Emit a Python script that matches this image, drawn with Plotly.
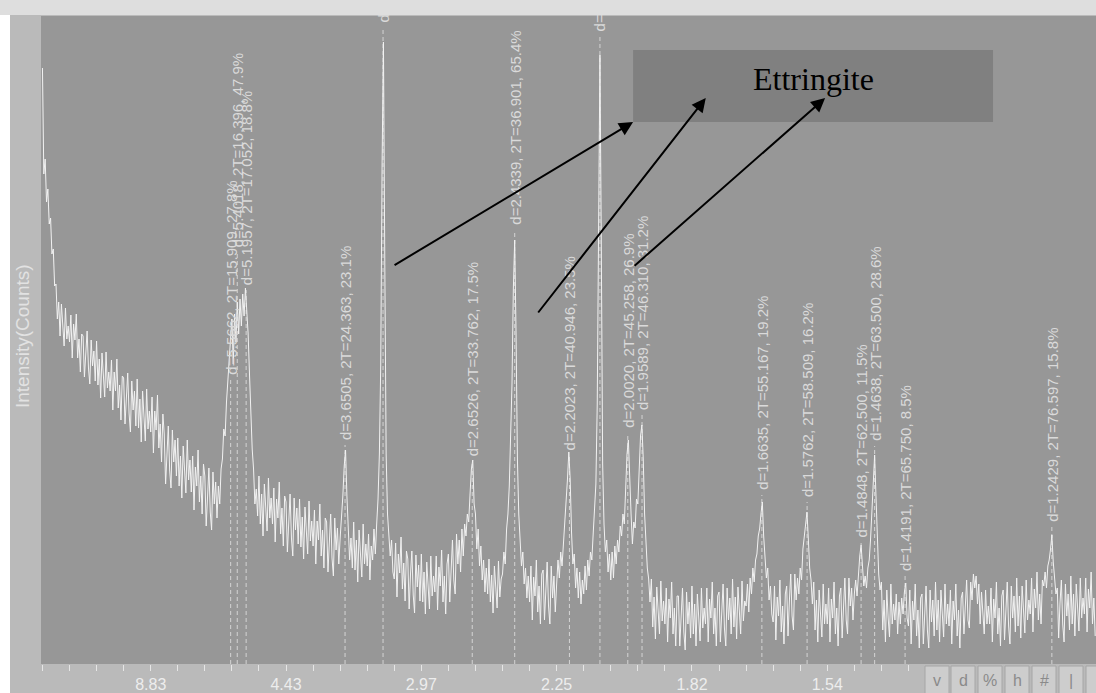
import numpy as np
import plotly.graph_objects as go

# Powder diffractogram, Cu K-alpha, intensity sampled every 0.1 deg 2-theta from 2.0 deg
start_2t = 2.0
step_2t = 0.1
counts = [
    596, 490, 505, 462, 475, 440, 446, 410, 415, 378,   # 2
    380, 345, 362, 328, 360, 340, 318, 356, 325, 338,   # 3
    322, 349, 306, 340, 324, 350, 306, 325, 292, 330,   # 4
    328, 287, 314, 333, 296, 280, 324, 298, 313, 283,   # 5
    323, 279, 305, 266, 311, 285, 267, 312, 276, 292,   # 6
    273, 304, 254, 292, 273, 305, 256, 279, 244, 288,   # 7
    286, 240, 271, 291, 251, 232, 283, 254, 273, 238,   # 8
    285, 236, 265, 222, 273, 244, 223, 275, 235, 253,   # 9
    232, 267, 211, 253, 234, 269, 216, 240, 202, 250,   # 10
    230, 180, 215, 238, 194, 176, 234, 202, 224, 188,   # 11
    226, 178, 208, 166, 218, 190, 171, 224, 184, 204,   # 12
    172, 208, 154, 197, 178, 214, 162, 188, 150, 200,   # 13
    188, 138, 173, 196, 152, 134, 192, 160, 182, 146,   # 14
    178, 160, 195, 205, 235, 228, 262, 280, 300, 325,   # 15
    345, 300, 350, 322, 362, 330, 365, 338, 370, 348,   # 16
    376, 352, 330, 290, 250, 215, 195, 160, 175, 148,   # 17
    188, 140, 170, 128, 180, 152, 133, 186, 146, 166,   # 18
    140, 176, 122, 165, 146, 182, 130, 156, 118, 168,   # 19
    162, 112, 147, 170, 126, 108, 166, 134, 156, 120,   # 20
    165, 117, 147, 105, 157, 129, 110, 163, 123, 143,   # 21
    118, 154, 100, 143, 124, 160, 108, 134, 96, 146,    # 22
    142, 92, 127, 150, 106, 88, 146, 114, 136, 100,     # 23
    126, 145, 168, 198, 214, 168, 132, 104, 126, 96,    # 24
    142, 94, 124, 82, 134, 106, 87, 140, 100, 120,      # 25
    98, 130, 84, 118, 104, 135, 110, 140, 165, 210,     # 26
    300, 500, 622, 400, 210, 150, 128, 108, 124, 92,    # 27
    85, 121, 67, 110, 91, 127, 75, 101, 63, 113,        # 28
    105, 55, 90, 113, 69, 51, 109, 77, 99, 63,          # 29
    110, 62, 92, 50, 102, 74, 55, 108, 68, 88,          # 30
    72, 108, 54, 97, 78, 114, 62, 88, 50, 100,          # 31
    110, 62, 99, 124, 84, 70, 130, 100, 124, 92,        # 32
    135, 108, 140, 128, 150, 142, 170, 195, 204, 160,   # 33
    150, 115, 135, 98, 118, 84, 104, 72, 96, 70,        # 34
    105, 62, 89, 51, 98, 73, 56, 103, 67, 85,           # 35
    90, 112, 100, 135, 150, 178, 220, 280, 375, 424,    # 36
    330, 205, 150, 125, 98, 112, 80, 96, 66, 88,        # 37
    62, 98, 44, 87, 68, 104, 52, 78, 40, 90,            # 38
    94, 44, 79, 102, 58, 40, 98, 66, 88, 52,            # 39
    80, 104, 86, 112, 98, 120, 130, 155, 185, 212,      # 40
    185, 132, 100, 110, 76, 96, 66, 92, 60, 84,         # 41
    70, 98, 74, 104, 88, 112, 104, 130, 150, 180,       # 42
    260, 470, 609, 420, 200, 140, 112, 124, 92, 110,    # 43
    84, 112, 86, 118, 100, 124, 112, 138, 128, 150,     # 44
    140, 175, 210, 224, 175, 150, 120, 142, 136, 165,   # 45
    160, 198, 228, 239, 205, 150, 125, 96, 85, 62,      # 46
    85, 37, 67, 25, 77, 49, 30, 83, 43, 63,             # 47
    40, 76, 22, 65, 46, 82, 30, 56, 18, 68,             # 48
    68, 18, 53, 76, 32, 14, 72, 40, 62, 26,             # 49
    78, 30, 60, 18, 70, 42, 23, 76, 36, 56,             # 50
    40, 76, 22, 65, 46, 82, 30, 56, 18, 68,             # 51
    72, 22, 57, 80, 36, 18, 76, 44, 66, 30,             # 52
    85, 37, 67, 25, 77, 49, 30, 83, 43, 63,             # 53
    58, 80, 52, 86, 70, 96, 82, 104, 110, 128,          # 54
    135, 150, 162, 128, 110, 86, 96, 64, 78, 50,        # 55
    42, 78, 24, 67, 48, 84, 32, 58, 20, 70,             # 56
    78, 28, 63, 90, 48, 34, 90, 64, 86, 70,             # 57
    96, 84, 115, 128, 145, 152, 125, 96, 84, 60,        # 58
    82, 34, 64, 22, 74, 46, 27, 80, 40, 60,             # 59
    40, 76, 22, 65, 46, 82, 30, 56, 18, 68,             # 60
    76, 26, 61, 86, 44, 30, 86, 58, 76, 44,             # 61
    70, 84, 68, 95, 108, 119, 96, 78, 88, 76,           # 62
    96, 104, 125, 152, 185, 209, 168, 120, 90, 74,      # 63
    82, 34, 64, 22, 74, 46, 27, 80, 40, 60,             # 64
    44, 70, 30, 62, 40, 66, 50, 72, 81, 46,             # 65
    38, 74, 20, 63, 44, 80, 28, 54, 16, 66,             # 66
    70, 20, 55, 78, 34, 16, 74, 42, 64, 28,             # 67
    82, 34, 64, 22, 74, 46, 27, 80, 40, 60,             # 68
    38, 74, 20, 63, 44, 80, 28, 54, 16, 66,             # 69
    72, 30, 60, 84, 44, 36, 82, 64, 90, 76,             # 70
    88, 60, 80, 40, 72, 50, 30, 74, 40, 58,             # 71
    40, 76, 22, 65, 46, 82, 30, 56, 18, 68,             # 72
    74, 24, 59, 82, 38, 20, 78, 46, 68, 32,             # 73
    86, 38, 68, 26, 78, 50, 31, 84, 44, 64,             # 74
    50, 86, 32, 75, 56, 92, 44, 70, 40, 84,             # 75
    78, 92, 76, 98, 104, 115, 129, 102, 84, 70,         # 76
    76, 26, 61, 84, 40, 22, 80, 48, 70, 34,             # 77
    88, 40, 70, 28, 80, 52, 33, 86, 46, 66,             # 78
    50, 86, 32, 75, 56, 92, 40, 66, 28,                 # 79
]
two_theta = np.round(start_2t + step_2t * np.arange(len(counts)), 1)

# Peak search results: position, label text, height where the label starts
peak_2t = [15.909, 16.396, 17.052, 24.363, 27.170, 33.762, 36.901, 40.946, 43.200,
           45.258, 46.310, 55.167, 58.509, 62.500, 63.500, 65.750, 76.597]
peak_labels = [
    "d=5.5662, 2T=15.909, 27.8%",
    "d=5.4018, 2T=16.396, 47.9%",
    "d=5.1957, 2T=17.052, 18.8%",
    "d=3.6505, 2T=24.363, 23.1%",
    "d=",
    "d=2.6526, 2T=33.762, 17.5%",
    "d=2.4339, 2T=36.901, 65.4%",
    "d=2.2023, 2T=40.946, 23.5%",
    "d=",
    "d=2.0020, 2T=45.258, 26.9%",
    "d=1.9589, 2T=46.310, 31.2%",
    "d=1.6635, 2T=55.167, 19.2%",
    "d=1.5762, 2T=58.509, 16.2%",
    "d=1.4848, 2T=62.500, 11.5%",
    "d=1.4638, 2T=63.500, 28.6%",
    "d=1.4191, 2T=65.750, 8.5%",
    "d=1.2429, 2T=76.597, 15.8%",
]
label_base = [287, 415, 377, 222, 639, 206, 437, 212, 631,
              234, 252, 172, 165, 124, 221, 91, 140]

# Bottom axis: ticks every 2 deg 2-theta, labelled with the d-spacing
tick_2t = [10, 20, 30, 40, 50, 60]
tick_d = ["8.83", "4.43", "2.97", "2.25", "1.82", "1.54"]
minor_2t = list(range(2, 67, 2))

# Phase call-out
phase_name = "Ettringite"
callout_box = dict(x0=45.65, x1=72.25, y0=542, y1=614)
callout_text_pos = (58.95, 585)
arrow_tails = [(27.91, 398), (38.55, 350), (45.65, 397)]
arrow_heads = [(45.65, 542), (51.02, 566), (59.84, 566)]

# Tool buttons along the lower right edge
button_labels = ["v", "d", "%", "h", "#", "|", ""]
button_px = [(925, 949), (951, 975), (978, 1002), (1005, 1029), (1032, 1056), (1059, 1083), (1086, 1100)]

W, H = 1096, 693
ML, MR, MT, MB = 41, 0, 16, 29
PW, PH = W - ML - MR, H - MT - MB
X_RANGE = [1.892, 79.86]
Y_RANGE = [0, 648]

PLOT_BG = "#979797"
FRAME_BG = "#bababa"
TRACE = "#f2f2f2"
LABEL = "#dadada"


def px_x(px):
    return (px - ML) / PW


def px_y(py):
    return (H - MB - py) / PH


fig = go.Figure()

# dashed peak markers from the baseline up to each label
dx, dy = [], []
for t, b in zip(peak_2t, label_base):
    dx += [t, t, None]
    dy += [0, b - 3, None]
fig.add_trace(go.Scatter(x=dx, y=dy, mode="lines",
                         line=dict(color="#d4d4d4", width=1, dash="4px,3px"),
                         hoverinfo="skip", showlegend=False))

fig.add_trace(go.Scatter(x=two_theta, y=counts, mode="lines",
                         line=dict(color=TRACE, width=1),
                         hoverinfo="skip", showlegend=False))

shapes = []
shapes.append(dict(type="rect", xref="x", yref="y", layer="below", line=dict(width=0),
                   fillcolor="#808080", **callout_box))
# white column at the far left
shapes.append(dict(type="rect", xref="paper", yref="paper", layer="above", line=dict(width=0),
                   fillcolor="#ffffff", x0=px_x(-2), x1=px_x(10), y0=px_y(H + 2), y1=px_y(-2)))
for (a, b) in button_px:
    shapes.append(dict(type="rect", xref="paper", yref="paper", layer="above",
                       line=dict(color="#a6a6a6", width=1), fillcolor="#cdcdcd",
                       x0=px_x(a), x1=px_x(b), y0=px_y(H + 2), y1=px_y(666)))

annotations = []
for t, b, txt in zip(peak_2t, label_base, peak_labels):
    annotations.append(dict(x=t, y=b, xref="x", yref="y", text=txt, textangle=-90,
                            showarrow=False, xanchor="center", yanchor="bottom",
                            font=dict(family="Liberation Sans", size=15, color=LABEL)))

annotations.append(dict(x=callout_text_pos[0], y=callout_text_pos[1], xref="x", yref="y",
                        text=phase_name, showarrow=False, xanchor="center", yanchor="middle",
                        font=dict(family="Liberation Serif", size=32, color="#000000")))
for (tx, ty), (hx, hy) in zip(arrow_tails, arrow_heads):
    annotations.append(dict(x=hx, y=hy, xref="x", yref="y", ax=tx, ay=ty, axref="x", ayref="y",
                            text="", showarrow=True, arrowhead=2, arrowsize=1.4, arrowwidth=2,
                            arrowcolor="#000000", standoff=0))

annotations.append(dict(x=px_x(22), y=px_y(336), xref="paper", yref="paper",
                        text="Intensity(Counts)", textangle=-90, showarrow=False,
                        xanchor="center", yanchor="middle",
                        font=dict(family="Liberation Sans", size=19, color="#e2e2e2")))

for (a, b), lab in zip(button_px, button_labels):
    if lab:
        annotations.append(dict(x=px_x((a + b) / 2), y=px_y(680), xref="paper", yref="paper",
                                text=lab, showarrow=False, xanchor="center", yanchor="middle",
                                font=dict(family="Liberation Sans", size=16, color="#8a8a8a")))

# title strip across the top
annotations.append(dict(x=px_x(W / 2 + 5), y=px_y(7.5), xref="paper", yref="paper", text=" ",
                        showarrow=False, width=W + 10, height=15, bgcolor="#dedede",
                        borderpad=0, borderwidth=0, xanchor="center", yanchor="middle"))

fig.update_layout(
    width=W, height=H,
    margin=dict(l=ML, r=MR, t=MT, b=MB, autoexpand=False),
    paper_bgcolor=FRAME_BG, plot_bgcolor=PLOT_BG,
    showlegend=False,
    shapes=shapes, annotations=annotations,
    xaxis=dict(range=X_RANGE, showgrid=False, zeroline=False, showline=False,
               ticks="outside", ticklen=6, tickwidth=1, tickcolor="#e6e6e6",
               tickvals=minor_2t,
               ticktext=[tick_d[tick_2t.index(v)] if v in tick_2t else "" for v in minor_2t],
               tickfont=dict(family="Liberation Sans", size=16, color="#ededed")),
    yaxis=dict(range=Y_RANGE, showgrid=False, zeroline=False, showline=False,
               showticklabels=False, ticks=""),
)

fig.write_html("out.html")
